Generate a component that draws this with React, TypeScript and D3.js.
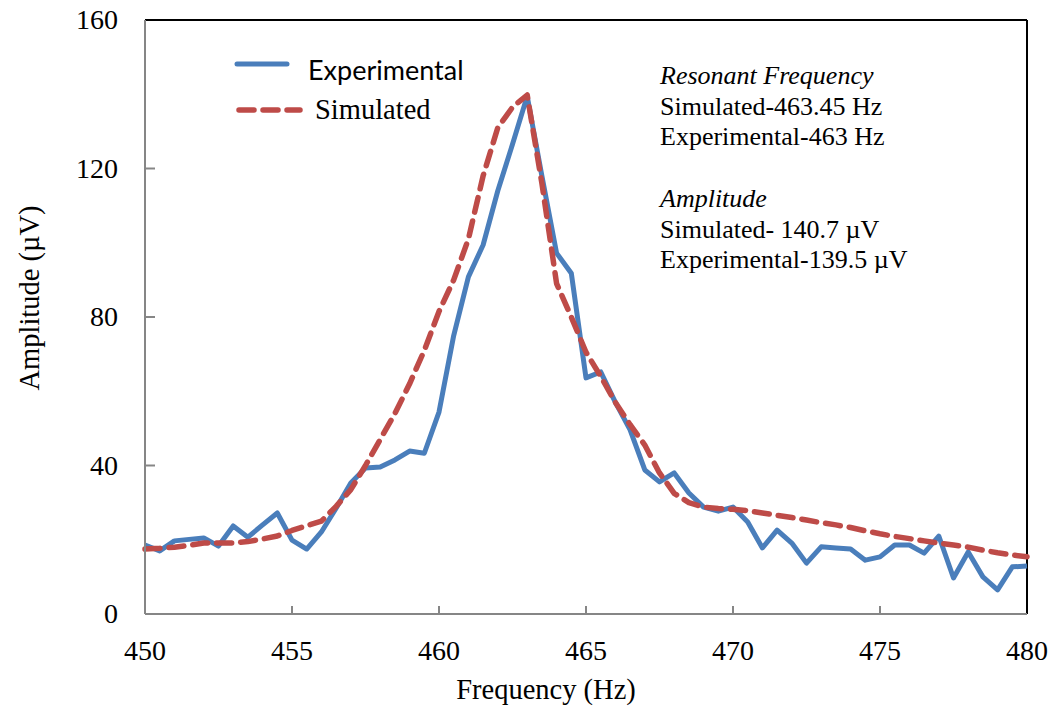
import React from "react";
import * as d3 from "d3";

const expFreq: number[] = [450,450.5,451,451.5,452,452.5,453,453.5,454,454.5,455,455.5,456,456.5,457,457.5,458,458.5,459,459.5,460,460.5,461,461.5,462,462.5,463,463.5,464,464.5,465,465.5,466,466.5,467,467.5,468,468.5,469,469.5,470,470.5,471,471.5,472,472.5,473,473.5,474,474.5,475,475.5,476,476.5,477,477.5,478,478.5,479,479.5,480];
const expAmp: number[] = [18.6,17.0,19.7,20.1,20.5,18.3,23.7,20.7,24.0,27.2,19.9,17.5,22.1,28.5,35.3,39.3,39.6,41.5,43.9,43.3,54.4,75,90.8,99.4,114,126.5,139.5,118,97.2,91.8,63.6,65.2,57,49.6,38.8,35.6,38.0,32.6,28.8,27.7,28.8,24.8,17.8,22.6,19.1,13.7,18.1,17.8,17.5,14.5,15.4,18.6,18.6,16.4,21.0,9.7,16.7,10.0,6.5,12.7,12.9];

const simFreq: number[] = expFreq;
const simAmp: number[] = [17.5,17.7,18.0,18.5,19.1,19.1,19.1,19.5,20.2,21.0,22.5,23.8,25.0,29.0,33.5,40,47,54,62,71,81.5,90,101,118,131,136.5,139.8,116,89,80,70.5,64,57,51,45.5,38,32.5,30,28.8,28.4,28.2,27.8,27.2,26.6,26.0,25.3,24.6,24.0,23.3,22.4,21.6,20.9,20.3,19.7,19.1,18.6,18.0,17.2,16.5,15.9,15.4];

const xTicks: number[] = [450,455,460,465,470,475,480];
const yTicks: number[] = [0,40,80,120,160];

const notes: { text: string; italic: boolean }[] = [
  { text: "Resonant Frequency", italic: true },
  { text: "Simulated-463.45 Hz", italic: false },
  { text: "Experimental-463 Hz", italic: false },
  { text: "", italic: false },
  { text: "Amplitude", italic: true },
  { text: "Simulated- 140.7 \u00b5V", italic: false },
  { text: "Experimental-139.5 \u00b5V", italic: false },
];

const W = 1054, H = 711;
const L = 145, R = 1027, T = 20, B = 614;
const serif = "'Liberation Serif', 'Times New Roman', serif";

export default function App() {
  const x = d3.scaleLinear().domain([450, 480]).range([L, R]);
  const y = d3.scaleLinear().domain([0, 160]).range([B, T]);
  const line = d3.line<[number, number]>().x(d => x(d[0])).y(d => y(d[1]));
  const expPts = expFreq.map((f, i) => [f, expAmp[i]] as [number, number]);
  const simPts = simFreq.map((f, i) => [f, simAmp[i]] as [number, number]);
  return (
    <svg width={W} height={H} style={{ position: "absolute", left: 0, top: 0, background: "#fff" }}>
      <rect x={0} y={0} width={W} height={H} fill="#fff" />
      <line x1={L} y1={T} x2={R} y2={T} stroke="#000" strokeWidth={2} />
      <line x1={R} y1={T} x2={R} y2={B} stroke="#000" strokeWidth={2} />
      <path d={line(expPts) || ""} fill="none" stroke="#4a7ebb" strokeWidth={5} strokeLinejoin="round" />
      <path d={line(simPts) || ""} fill="none" stroke="#be4b48" strokeWidth={5.5} strokeDasharray="15 9" strokeLinecap="round" strokeLinejoin="round" />
      <line x1={L} y1={T} x2={L} y2={B} stroke="#868686" strokeWidth={2} />
      <line x1={L} y1={B} x2={R} y2={B} stroke="#868686" strokeWidth={2} />
      {yTicks.map(t => (
        <g key={"y" + t}>
          {t > 0 && t < 160 && <line x1={L} x2={L + 10} y1={y(t)} y2={y(t)} stroke="#868686" strokeWidth={2} />}
          <text x={118} y={y(t) + 9} textAnchor="end" fontFamily={serif} fontSize={28}>{t}</text>
        </g>
      ))}
      {xTicks.map(t => (
        <g key={"x" + t}>
          {t > 450 && t < 480 && <line x1={x(t)} x2={x(t)} y1={B} y2={B - 8} stroke="#868686" strokeWidth={2} />}
          <text x={x(t)} y={660} textAnchor="middle" fontFamily={serif} fontSize={28}>{t}</text>
        </g>
      ))}
      <text x={546} y={699} textAnchor="middle" fontFamily={serif} fontSize={28.5}>Frequency (Hz)</text>
      <text transform="translate(39,298) rotate(-90)" textAnchor="middle" fontFamily={serif} fontSize={28.5}>Amplitude (µV)</text>
      <line x1={237} x2={287} y1={64} y2={64} stroke="#4a7ebb" strokeWidth={5} strokeLinecap="round" />
      <text x={308} y={80} fontFamily="Lato, 'Open Sans', sans-serif" fontSize={27}>Experimental</text>
      <line x1={239} x2={300} y1={110} y2={110} stroke="#be4b48" strokeWidth={5.5} strokeDasharray="15 9" strokeLinecap="round" />
      <text x={315} y={119} fontFamily={serif} fontSize={28.5}>Simulated</text>
      {notes.map((n, i) => (
        <text key={"n" + i} x={660} y={84 + i * 30.7} fontFamily={serif} fontSize={26} fontStyle={n.italic ? "italic" : "normal"}>{n.text}</text>
      ))}
    </svg>
  );
}
